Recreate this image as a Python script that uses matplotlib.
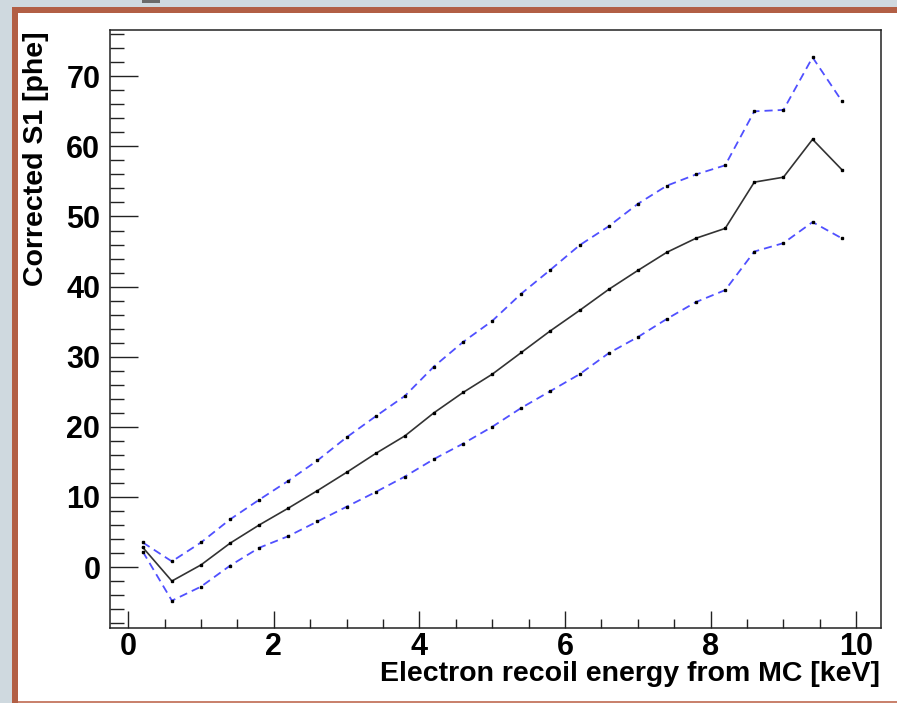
import matplotlib
matplotlib.use("Agg")
import matplotlib.pyplot as plt
from matplotlib.patches import Rectangle
from matplotlib.ticker import MultipleLocator

# Bin centres of the true recoil energy [keV]
energy = [0.2, 0.6, 1.0, 1.4, 1.8, 2.2, 2.6, 3.0, 3.4, 3.8, 4.2, 4.6, 5.0,
          5.4, 5.8, 6.2, 6.6, 7.0, 7.4, 7.8, 8.2, 8.6, 9.0, 9.4, 9.8]

# Mean corrected S1 per bin [phe]
s1_mean = [2.8, -2.0, 0.3, 3.4, 6.0, 8.4, 10.9, 13.5, 16.2, 18.7, 22.0, 24.9, 27.5,
           30.6, 33.7, 36.6, 39.6, 42.3, 44.9, 46.9, 48.3, 54.9, 55.6, 61.0, 56.7]

# Upper and lower spread bands [phe]
s1_upper = [3.5, 0.8, 3.5, 6.8, 9.6, 12.3, 15.2, 18.5, 21.5, 24.4, 28.6, 32.1, 35.1,
            39.0, 42.4, 45.9, 48.6, 51.8, 54.4, 56.0, 57.3, 65.0, 65.2, 72.7, 66.5]
s1_lower = [2.2, -4.8, -2.8, 0.2, 2.75, 4.4, 6.5, 8.6, 10.7, 12.9, 15.4, 17.6, 20.0,
            22.7, 25.1, 27.5, 30.5, 32.8, 35.4, 37.8, 39.5, 45.0, 46.2, 49.2, 46.9]

x_ticks = [0, 2, 4, 6, 8, 10]
y_ticks = [0, 10, 20, 30, 40, 50, 60, 70]

W, H = 897, 703
fig = plt.figure(figsize=(W / 100, H / 100), dpi=100)
fig.patch.set_facecolor("white")

def px_rect(x0, y0, x1, y1, color):
    fig.add_artist(Rectangle((x0 / W, 1 - y1 / H), (x1 - x0) / W, (y1 - y0) / H,
                             transform=fig.transFigure, facecolor=color,
                             edgecolor="none", zorder=0))

# Surrounding slide frame
px_rect(0, 0, W, 7, "#cfd9df")
px_rect(0, 0, 12, H, "#cfd9df")
px_rect(12, 7, W, 13, "#b25f45")
px_rect(12, 7, 18, H, "#b25f45")
px_rect(18, 701, W, H, "#c9826d")
px_rect(142, 0, 160, 3, "#6a6a6a")

ax = fig.add_axes([110 / W, 1 - 628 / H, (881 - 110) / W, (628 - 30) / H])
ax.set_facecolor("white")

band_style = dict(color="#5050ff", lw=1.3, dashes=(4.5, 2.8), zorder=2)
ax.plot(energy, s1_upper, **band_style)
ax.plot(energy, s1_lower, **band_style)
ax.plot(energy, s1_mean, color="#333333", lw=1.2, zorder=3)
for series in (s1_upper, s1_mean, s1_lower):
    ax.plot(energy, series, ls="none", marker="s", ms=1.6, color="black", zorder=4)

ax.set_xlim(-0.25, 10.34)
ax.set_ylim(-8.7, 76.6)
ax.set_xticks(x_ticks)
ax.set_yticks(y_ticks)
ax.xaxis.set_minor_locator(MultipleLocator(0.5))
ax.yaxis.set_minor_locator(MultipleLocator(2))

for s in ax.spines.values():
    s.set_linewidth(1.1)
    s.set_color("#222222")

ax.tick_params(axis="y", which="major", direction="in", length=20, width=1.0,
               color="#222222", pad=7)
ax.tick_params(axis="y", which="minor", direction="in", length=10, width=1.0,
               color="#222222")
ax.tick_params(axis="x", which="major", direction="in", length=12, width=1.0,
               color="#222222", pad=3)
ax.tick_params(axis="x", which="minor", direction="in", length=6.5, width=1.0,
               color="#222222")

font = ["Liberation Sans", "DejaVu Sans"]
for lab in ax.get_xticklabels() + ax.get_yticklabels():
    lab.set_fontfamily(font)
    lab.set_fontweight("bold")
    lab.set_fontsize(22)
    lab.set_color("black")

ax.set_xlabel("Electron recoil energy from MC [keV]", family=font, fontweight="bold",
              fontsize=20.5, ha="right", va="center")
ax.xaxis.set_label_coords(0.999, -0.077)
ax.set_ylabel("Corrected S1 [phe]", family=font, fontweight="bold",
              fontsize=20.5, ha="right", va="center")
ax.yaxis.set_label_coords(-0.096, 0.997)

fig.savefig("out.png", dpi=100)
